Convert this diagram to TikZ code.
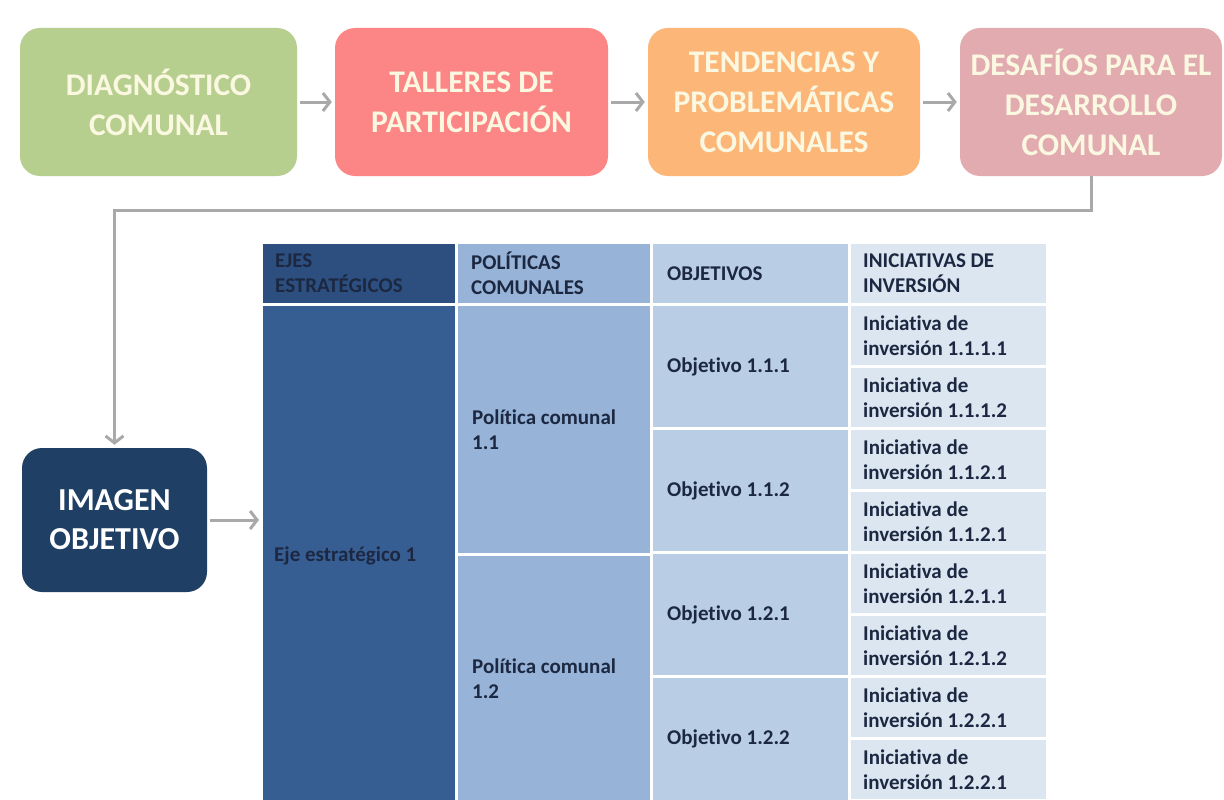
\documentclass[tikz,border=0pt]{standalone}
\usepackage{fontspec}
\setmainfont{Carlito}[Ligatures=NoCommon]
\usetikzlibrary{arrows.meta,calc}
\definecolor{cgreen}{HTML}{B7CF8E}
\definecolor{cred}{HTML}{FC8686}
\definecolor{corange}{HTML}{FBB678}
\definecolor{cpink}{HTML}{E2ABB0}
\definecolor{ctoptext}{HTML}{FBF8E2}
\definecolor{cnavy}{HTML}{203F64}
\definecolor{carrow}{HTML}{A9A9A9}
\definecolor{cejeh}{HTML}{2D4F80}
\definecolor{ceje}{HTML}{375E93}
\definecolor{cpol}{HTML}{97B3D7}
\definecolor{cobj}{HTML}{B9CDE5}
\definecolor{cini}{HTML}{DCE6F1}
\definecolor{ctabtext}{HTML}{1C2842}
\tikzset{
  topbox/.style={rounded corners=20pt, minimum height=148pt, inner sep=2pt,
    text=ctoptext, align=center, font=\fontsize{31.5}{40}\selectfont\bfseries},
  imgbox/.style={rounded corners=20pt, fill=cnavy, minimum width=185pt, minimum height=144pt,
    text=white, align=center, font=\fontsize{32}{39}\selectfont\bfseries},
  arr/.style={draw=carrow, line width=3pt, -{Straight Barb[length=7pt,width=18pt,line width=3pt]}},
  cell/.style={anchor=north west, inner sep=0pt, outer sep=0pt},
  ctext/.style={anchor=west, align=left, inner sep=0pt, text=ctabtext,
    font=\fontsize{21}{25}\selectfont\bfseries},
}
\begin{document}
\begin{tikzpicture}[x=1pt,y=-1pt]
\useasboundingbox (0,0) rectangle (1224,800);
\fill[white] (0,0) rectangle (1224,800);

% top boxes
\node[topbox, fill=cgreen, minimum width=277pt] (b1) at (158.5,102) {DIAGNÓSTICO\\COMUNAL};
\node[topbox, fill=cred, minimum width=273pt] (b2) at (471.5,102) {TALLERES DE\\PARTICIPACIÓN};
\node[topbox, fill=corange, minimum width=272pt] (b3) at (784,102) {TENDENCIAS Y\\PROBLEMÁTICAS\\COMUNALES};
\node[topbox, fill=cpink, minimum width=262pt] (b4) at (1091,102) {DESAFÍOS PARA EL\\DESARROLLO\\COMUNAL};

\draw[arr, shorten <=3pt, shorten >=3pt] (b1) -- (b2);
\draw[arr, shorten <=3pt, shorten >=3pt] (b2) -- (b3);
\draw[arr, shorten <=3pt, shorten >=3pt] (b3) -- (b4);

% imagen objetivo
\node[imgbox] (img) at (114.5,520) {IMAGEN\\OBJETIVO};

% table cells
\node[cell, fill=cejeh, minimum width=192pt, minimum height=59pt] (h1) at (263,244) {};
\node[cell, fill=cpol, minimum width=192pt, minimum height=59pt] (h2) at (458,244) {};
\node[cell, fill=cobj, minimum width=195pt, minimum height=59pt] (h3) at (653,244) {};
\node[cell, fill=cini, minimum width=195pt, minimum height=59pt] (h4) at (851,244) {};

\node[cell, fill=ceje, minimum width=192pt, minimum height=496pt] (eje) at (263,306) {};
\node[cell, fill=cpol, minimum width=192pt, minimum height=247pt] (p1) at (458,306) {};
\node[cell, fill=cpol, minimum width=192pt, minimum height=246pt] (p2) at (458,556) {};
\node[cell, fill=cobj, minimum width=195pt, minimum height=121pt] (o1) at (653,306) {};
\node[cell, fill=cobj, minimum width=195pt, minimum height=121pt] (o2) at (653,430) {};
\node[cell, fill=cobj, minimum width=195pt, minimum height=121pt] (o3) at (653,554) {};
\node[cell, fill=cobj, minimum width=195pt, minimum height=122pt] (o4) at (653,678) {};
\foreach \i in {0,...,7}{
  \node[cell, fill=cini, minimum width=195pt, minimum height=59pt] (i\i) at (851,306+62*\i) {};
}

% header texts
\node[ctext] (th1) at ($(h1.west)+(12,0)$) {EJES\\ESTRATÉGICOS};
\node[ctext] (th2) at ($(h2.west)+(13,0)$) {POLÍTICAS\\COMUNALES};
\node[ctext] (th3) at ($(h3.west)+(14,0)$) {OBJETIVOS};
\node[ctext] (th4) at ($(h4.west)+(12,0)$) {INICIATIVAS DE\\INVERSIÓN};

% body texts
\node[ctext] (te) at ($(eje.west)+(11,2)$) {Eje estratégico 1};
\node[ctext] (tp1) at ($(p1.west)+(14,0)$) {Política comunal\\1.1};
\node[ctext] (tp2) at ($(p2.west)+(14,0)$) {Política comunal\\1.2};
\node[ctext] (to1) at ($(o1.west)+(14,0)$) {Objetivo 1.1.1};
\node[ctext] (to2) at ($(o2.west)+(14,0)$) {Objetivo 1.1.2};
\node[ctext] (to3) at ($(o3.west)+(14,0)$) {Objetivo 1.2.1};
\node[ctext] (to4) at ($(o4.west)+(14,0)$) {Objetivo 1.2.2};
\foreach \i/\t in {0/1.1.1.1,1/1.1.1.2,2/1.1.2.1,3/1.1.2.1,4/1.2.1.1,5/1.2.1.2,6/1.2.2.1,7/1.2.2.1}{
  \node[ctext] (ti\i) at ($(i\i.west)+(12,0)$) {Iniciativa de\\inversión \t};
}

% connectors
\draw[arr, shorten >=3pt] (b4.south) -- ++(0,34) -| (img.north);
\draw[arr, shorten <=3pt, shorten >=4pt] (img.east) -- (img.east -| eje.west);
\end{tikzpicture}
\end{document}
